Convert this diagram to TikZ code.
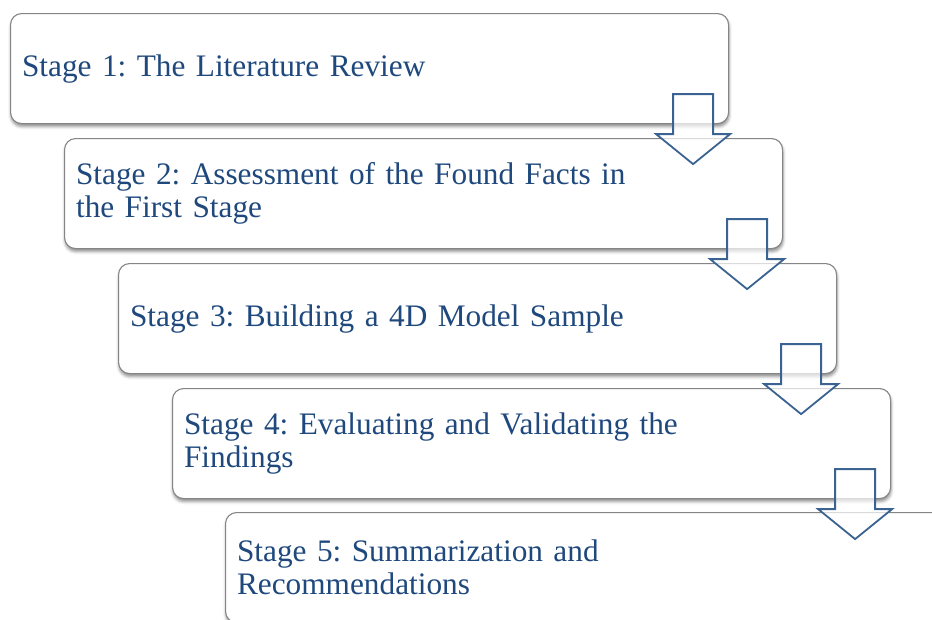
\documentclass[tikz,border=0pt]{standalone}
\usepackage{fontspec}
\setmainfont{Liberation Serif}
\usetikzlibrary{shadows.blur,calc}
\definecolor{txtblue}{HTML}{1F497D}
\definecolor{arrblue}{HTML}{3A6391}
\definecolor{boxgray}{HTML}{858585}
\tikzset{
  stagebox/.style={draw=boxgray, line width=1.1pt, fill=white, rounded corners=11pt,
    minimum width=718pt, minimum height=110pt, text width=695pt, inner xsep=11.5pt,
    align=left, anchor=north west, text=txtblue,
    font=\fontsize{31.3pt}{33pt}\selectfont,
    blur shadow={shadow xshift=0.5pt, shadow yshift=-3pt, shadow blur radius=3pt, shadow opacity=45}},
  blockarrow/.style={draw=arrblue, line width=1.8pt, fill=white, fill opacity=0.7, line join=miter}
}
\begin{document}
\frenchspacing
\begin{tikzpicture}[x=1pt,y=-1pt]
\useasboundingbox (0,0) rectangle (932,619);
\clip (0,0) rectangle (932,619);
\node[stagebox] (b1) at (10,13) {Stage 1: The Literature Review};
\node[stagebox] (b2) at (64,138) {Stage 2: Assessment of the Found Facts in\\the First Stage};
\node[stagebox] (b3) at (118,263) {Stage 3: Building a 4D Model Sample};
\node[stagebox] (b4) at (172,388) {Stage 4: Evaluating and Validating the\\Findings};
\node[stagebox] (b5) at (225,512) {Stage 5: Summarization and\\Recommendations};
\foreach \b in {b1,b2,b3,b4}{
  \draw[blockarrow] ($(\b.south east)+(-56,-30)$) -- ($(\b.south east)+(-16,-30)$)
    -- ($(\b.south east)+(-16,10)$) -- ($(\b.south east)+(1,10)$)
    -- ($(\b.south east)+(-36,40)$) -- ($(\b.south east)+(-73,10)$)
    -- ($(\b.south east)+(-56,10)$) -- cycle;
}
\end{tikzpicture}
\end{document}
